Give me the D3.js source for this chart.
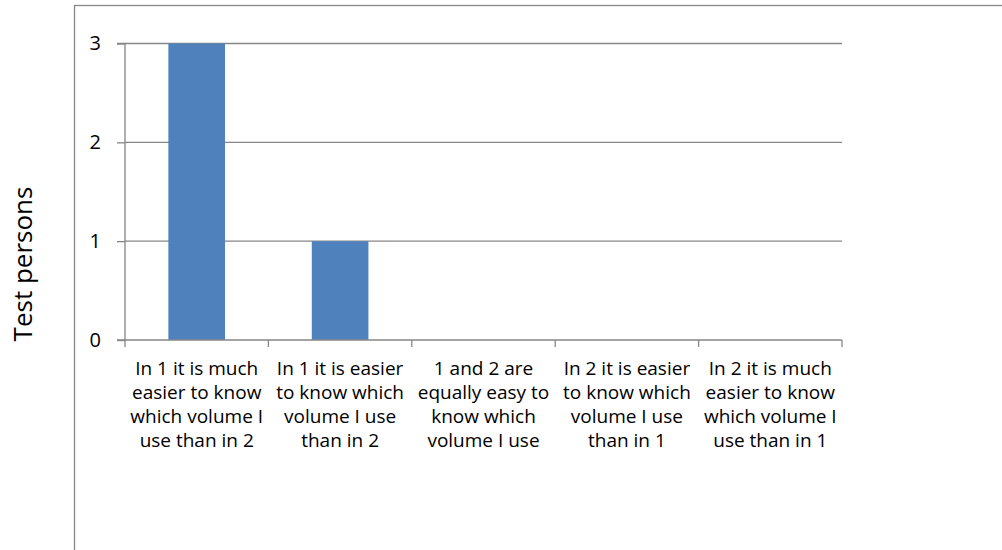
<!DOCTYPE html>
<html><head><meta charset="utf-8">
<script src="https://cdn.jsdelivr.net/npm/d3@7"></script>
<style>body{margin:0;background:#fff}svg{display:block}text{font-family:"Open Sans",sans-serif;fill:#000}</style>
</head><body><svg id="c" width="1002" height="550"></svg>
<script>
const categories = [
  ["In 1 it is much","easier to know","which volume I","use than in 2"],
  ["In 1 it is easier","to know which","volume I use","than in 2"],
  ["1 and 2 are","equally easy to","know which","volume I use"],
  ["In 2 it is easier","to know which","volume I use","than in 1"],
  ["In 2 it is much","easier to know","which volume I","use than in 1"]
];
const values = [3, 1, 0, 0, 0];
const yTicks = [0, 1, 2, 3];
const yTitle = "Test persons";

const svg = d3.select("#c");
const L = 125, R = 842, T = 43.5, B = 340;
const x = d3.scaleBand().domain(d3.range(categories.length)).range([L, R]).paddingInner(0.605).paddingOuter(0.3025);
const xb = d3.scaleBand().domain(d3.range(categories.length)).range([L, R]);
const y = d3.scaleLinear().domain([0, 3]).range([B, T]);
const grid = "#868686";

// outer frame
svg.append("rect").attr("x", 74.5).attr("y", 5.5).attr("width", 1000).attr("height", 600)
  .attr("fill", "none").attr("stroke", grid).attr("stroke-width", 1.3);

// gridlines
svg.append("g").selectAll("line").data(yTicks.filter(d => d > 0)).join("line")
  .attr("x1", L).attr("x2", R).attr("y1", d => y(d)).attr("y2", d => y(d))
  .attr("stroke", grid).attr("stroke-width", 1.3);

// bars
svg.append("g").selectAll("rect").data(values).join("rect")
  .attr("x", (d, i) => x(i)).attr("width", x.bandwidth())
  .attr("y", d => y(d)).attr("height", d => B - y(d))
  .attr("fill", "#4F81BD");

// y axis
const ya = svg.append("g").attr("transform", `translate(${L},0)`)
  .call(d3.axisLeft(y).tickValues(yTicks).tickFormat(d3.format("d")).tickSize(8).tickPadding(16));
ya.select(".domain").attr("stroke", grid).attr("stroke-width", 1.3).attr("d", `M-8,${B}H0V${T}H-8`);
ya.selectAll(".tick line").attr("stroke", grid).attr("stroke-width", 1.3);
ya.selectAll(".tick text").attr("font-size", 20).attr("font-family", "Open Sans").attr("fill", "#000");

// x axis
const bounds = d3.range(categories.length + 1).map(i => i < categories.length ? xb(i) : R);
svg.append("line").attr("x1", L).attr("x2", R).attr("y1", B).attr("y2", B).attr("stroke", grid).attr("stroke-width", 1.3);
svg.append("g").selectAll("line").data(bounds).join("line")
  .attr("x1", d => d).attr("x2", d => d).attr("y1", B).attr("y2", B + 7)
  .attr("stroke", grid).attr("stroke-width", 1.3);

const lab = svg.append("g").selectAll("text").data(categories).join("text")
  .attr("text-anchor", "middle").attr("font-size", 19)
  .attr("transform", (d, i) => `translate(${xb(i) + xb.bandwidth() / 2},0)`);
lab.selectAll("tspan").data(d => d).join("tspan")
  .attr("x", 0).attr("y", (d, j) => 375 + j * 24).text(d => d);

// y title
svg.append("text").attr("transform", "translate(32,264) rotate(-90)")
  .attr("text-anchor", "middle").attr("font-size", 26).text(yTitle);
</script></body></html>
